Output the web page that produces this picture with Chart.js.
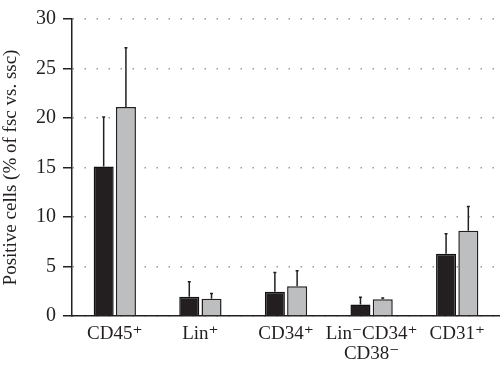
<!DOCTYPE html>
<html>
<head>
<meta charset="utf-8">
<script src="https://cdn.jsdelivr.net/npm/chart.js@4"></script>
<style>
  html, body { margin:0; padding:0; background:#fff; }
  #wrap { width:500px; height:375px; }
</style>
</head>
<body>
<div id="wrap"><canvas id="c"></canvas></div>
<script>
// data
const categories = ['CD45\u207A', 'Lin\u207A', 'CD34\u207A', ['Lin\u207BCD34\u207A', 'CD38\u207B'], 'CD31\u207A'];
const blackVals  = [15.1, 1.95, 2.45, 1.15, 6.3];
const greyVals   = [21.1, 1.73, 3.0, 1.7, 8.6];
const blackErr   = [20.1, 3.45, 4.4, 1.9, 8.3];   // top of error bar
const greyErr    = [27.1, 2.28, 4.58, 1.83, 11.05];
const yTicks     = [0, 5, 10, 15, 20, 25, 30];

const ink = '#231f20';
const serif = "'Liberation Serif', 'DejaVu Serif', serif";

// upward-only error bars, drawn from the bar top to the error value
const errorBars = {
  id: 'errorBars',
  afterDatasetsDraw(chart) {
    const ctx = chart.ctx, y = chart.scales.y;
    const errs = [blackErr, greyErr];
    chart.data.datasets.forEach((ds, i) => {
      chart.getDatasetMeta(i).data.forEach((bar, j) => {
        const yTop = y.getPixelForValue(errs[i][j]);
        ctx.save();
        ctx.strokeStyle = ink;
        ctx.lineWidth = 1.5;
        ctx.beginPath();
        ctx.moveTo(bar.x, bar.y);
        ctx.lineTo(bar.x, yTop);
        ctx.moveTo(bar.x - 1.5, yTop);
        ctx.lineTo(bar.x + 1.5, yTop);
        ctx.stroke();
        ctx.restore();
      });
    });
  }
};

new Chart(document.getElementById('c'), {
  type: 'bar',
  data: {
    labels: categories,
    datasets: [
      { label: 'a', data: blackVals, backgroundColor: '#231f20', borderColor: '#111', borderWidth: 1.5,
        barPercentage: 0.9, categoryPercentage: 0.52 },
      { label: 'b', data: greyVals, backgroundColor: '#bcbec0', borderColor: ink, borderWidth: 1.5,
        barPercentage: 0.9, categoryPercentage: 0.52 }
    ]
  },
  options: {
    responsive: true, maintainAspectRatio: false, animation: false,
    layout: { padding: { top: 10, right: 0, left: 0, bottom: 0 } },
    plugins: { legend: { display: false }, tooltip: { enabled: false } },
    scales: {
      x: {
        grid: { display: false, drawTicks: false },
        border: { display: true, color: ink, width: 1.5 },
        ticks: { color: ink, padding: 8, maxRotation: 0, autoSkip: false, font: { family: serif, size: 19, lineHeight: 1.05 } },
        afterFit(s) { s.height = 59; }
      },
      y: {
        min: 0, max: 30,
        afterBuildTicks(s) { s.ticks = yTicks.map(v => ({ value: v })); },
        grid: { color: '#999', lineWidth: 1.5, tickColor: ink, tickWidth: 1.5, tickLength: 9 },
        border: { display: true, color: ink, width: 1.5, dash: [1.5, 10.5] },
        ticks: { color: ink, padding: 7, font: { family: serif, size: 20 } },
        title: { display: true, text: 'Positive cells (% of fsc vs. ssc)', color: ink, padding: 0,
                 font: { family: serif, size: 19 } },
        afterFit(s) { s.width = 72; }
      }
    }
  },
  plugins: [errorBars]
});
</script>
</body>
</html>
